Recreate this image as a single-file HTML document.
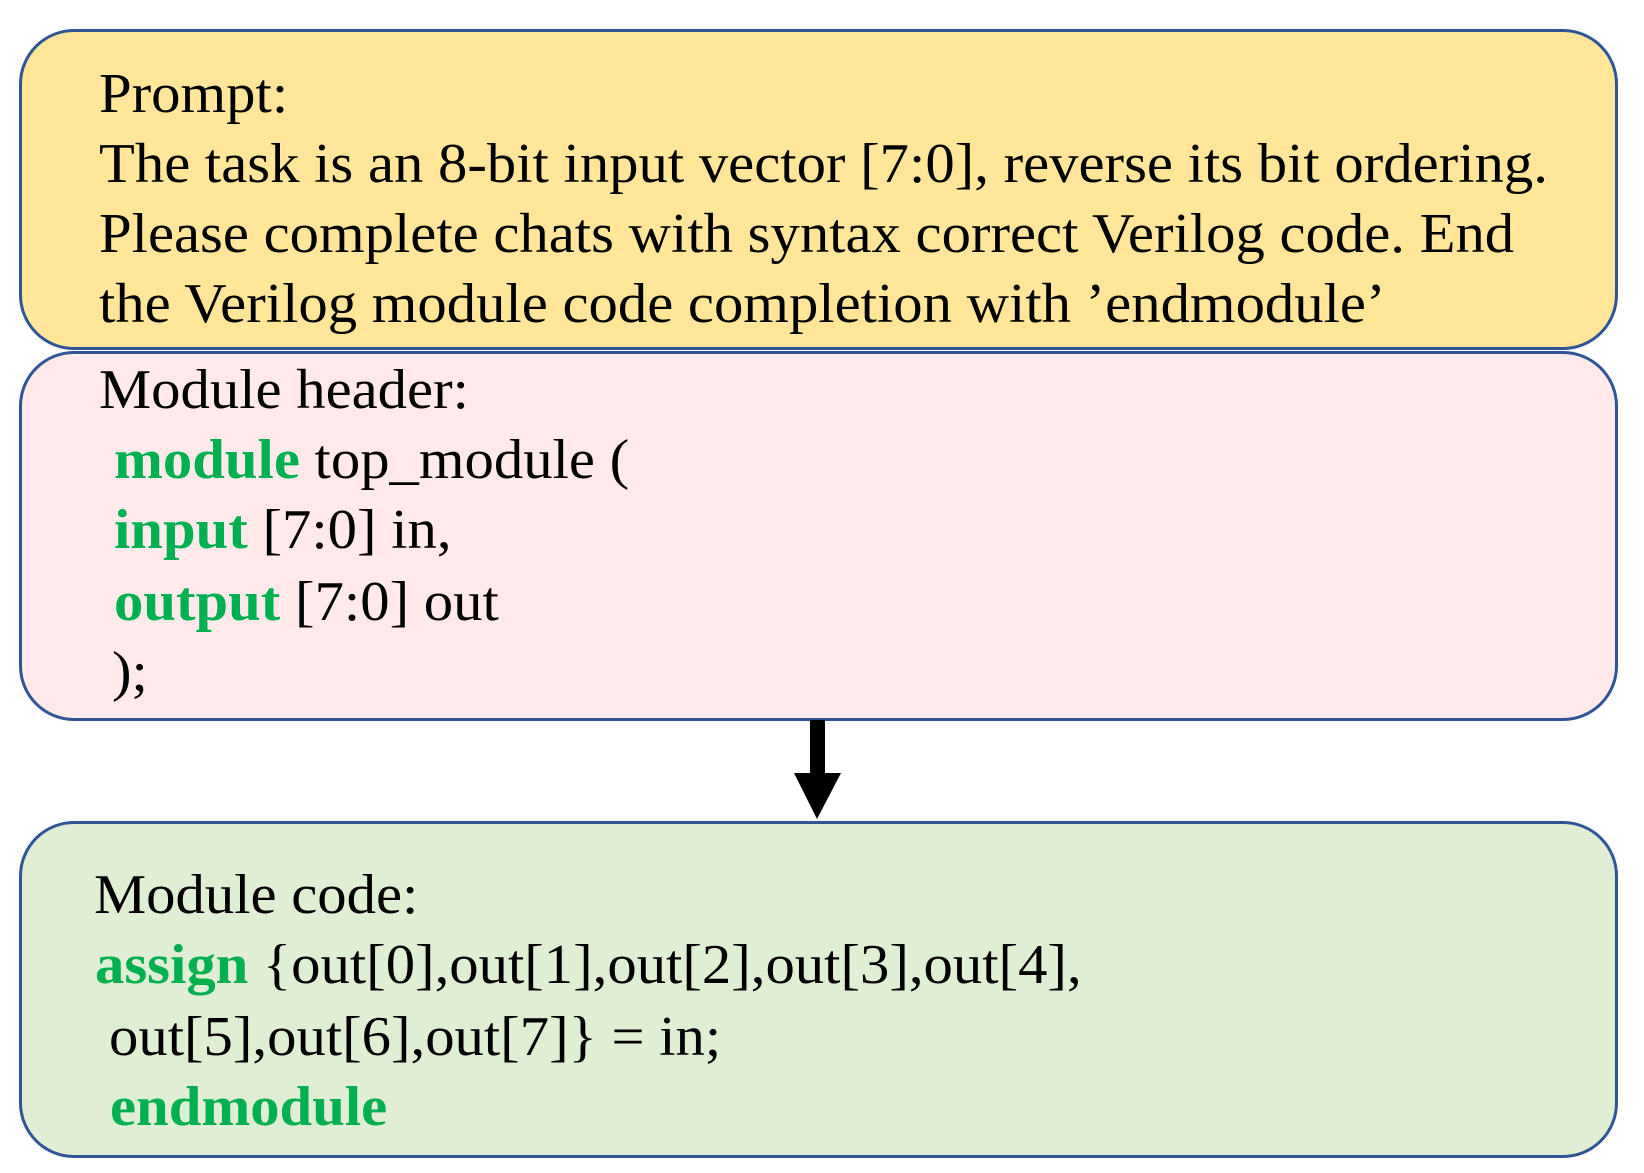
<!DOCTYPE html>
<html><head><meta charset="utf-8"><style>
html,body{margin:0;padding:0;background:#fff;}
body{width:1644px;height:1173px;position:relative;overflow:hidden;font-family:"Liberation Serif","Times New Roman",serif;}
.box{position:absolute;box-sizing:border-box;border:3px solid #2F5597;border-radius:55px;}
.t{position:absolute;font-size:56px;line-height:56px;white-space:pre;color:#000;transform:scaleX(1.048);transform-origin:0 0;}
.g{color:#00B050;font-weight:bold;}
</style></head><body>
<div class="box" style="left:19px;top:29px;width:1599px;height:321px;background:#FFE699;"></div>
<div class="box" style="left:19px;top:351px;width:1599px;height:370px;background:#FFE9EA;"></div>
<div class="box" style="left:19px;top:821px;width:1599px;height:337px;background:#E0EED3;"></div>

<div class="t" style="left:99px;top:66px;">Prompt:</div>
<div class="t" style="left:99px;top:136px;">The task is an 8-bit input vector [7:0], reverse its bit ordering.</div>
<div class="t" style="left:99px;top:206px;">Please complete chats with syntax correct Verilog code. End</div>
<div class="t" style="left:99px;top:276px;">the Verilog module code completion with ’endmodule’</div>

<div class="t" style="left:99px;top:362px;">Module header:</div>
<div class="t" style="left:114px;top:432px;"><span class="g">module</span> top_module (</div>
<div class="t" style="left:114px;top:502px;"><span class="g">input</span> [7:0] in,</div>
<div class="t" style="left:114px;top:574px;"><span class="g">output</span> [7:0] out</div>
<div class="t" style="left:112px;top:644px;">);</div>

<div class="t" style="left:94px;top:867px;">Module code:</div>
<div class="t" style="left:95px;top:937px;"><span class="g">assign</span> {out[0],out[1],out[2],out[3],out[4],</div>
<div class="t" style="left:109px;top:1009px;">out[5],out[6],out[7]} = in;</div>
<div class="t" style="left:110px;top:1079px;"><span class="g">endmodule</span></div>

<svg style="position:absolute;left:0;top:0" width="1644" height="1173">
<rect x="810" y="720" width="15" height="54" fill="#000"/>
<polygon points="794,773 841,773 817,819" fill="#000"/>
</svg>
</body></html>
